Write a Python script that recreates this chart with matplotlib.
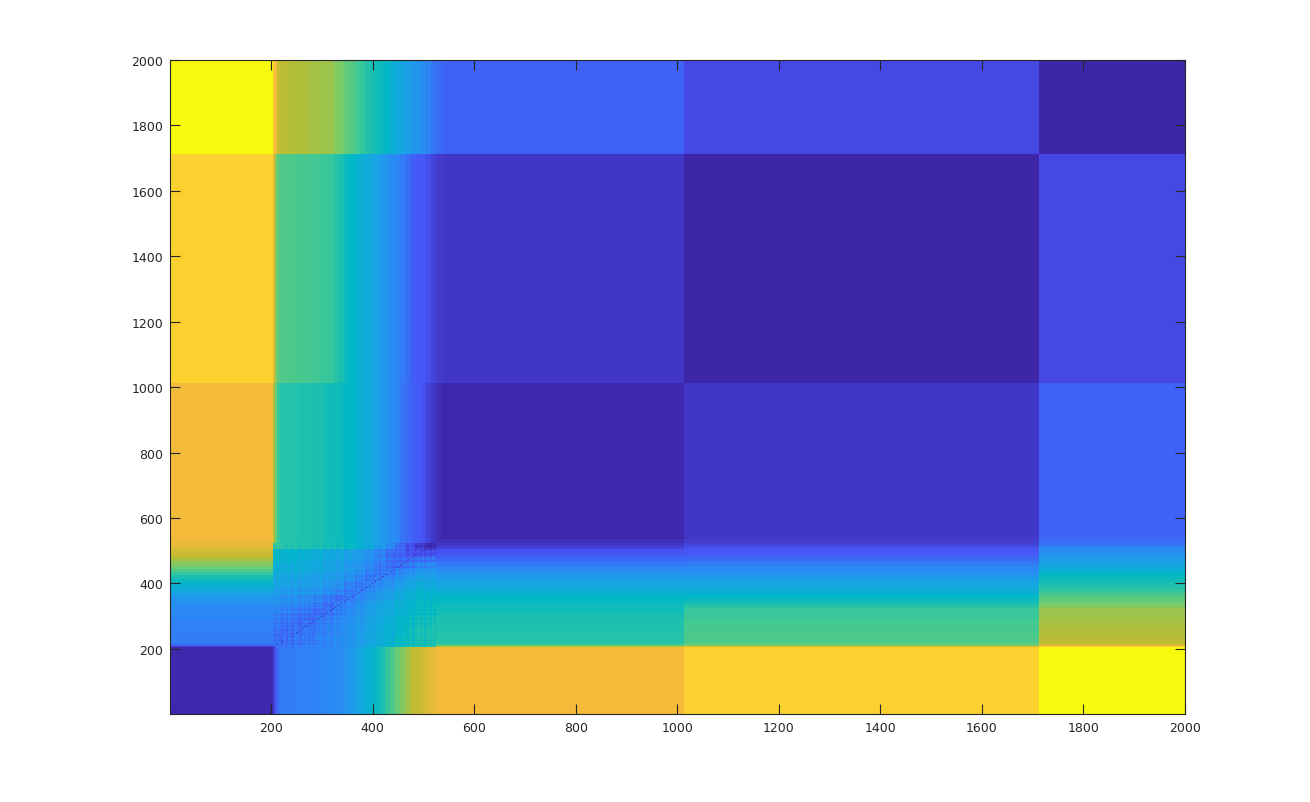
import numpy as np
import matplotlib
matplotlib.use('Agg')
import matplotlib.pyplot as plt
from matplotlib.colors import LinearSegmentedColormap

# parula-like colours
cmap_colors = [(0.2422, 0.1504, 0.6603), (0.2810, 0.3228, 0.9579), (0.1786, 0.5289, 0.9682),
               (0.1000, 0.6400, 0.9000), (0.0000, 0.7200, 0.7800), (0.2000, 0.7800, 0.6200),
               (0.4700, 0.8000, 0.4200), (0.7300, 0.7400, 0.2000), (0.9600, 0.7300, 0.2300),
               (0.9900, 0.8400, 0.1800), (0.9760, 0.9840, 0.0550)]

ticks = [200, 400, 600, 800, 1000, 1200, 1400, 1600, 1800, 2000]

# band edges along both axes
trans_edges = [205, 209, 213, 218, 225, 235, 245, 255, 265, 275, 285, 295, 305, 315, 325, 335, 345,
               355, 365, 375, 385, 395, 405, 415, 425, 435, 445, 455, 465, 475, 485, 495, 505, 515, 525,
               535, 545, 555]
block_edges = [1013, 1712, 2001]
n_tail = 3  # last transition bands, right of the busy middle part

# levels of the big blocks A, C, D, E against each other
blocks = [[0.01, 0.80, 0.88, 1.00],
          [0.80, 0.01, 0.04, 0.13],
          [0.88, 0.04, 0.00, 0.08],
          [1.00, 0.13, 0.08, 0.00]]

# levels of each block against the transition bands
strip_a = [.06, .12, .16, .18, .18, .18, .19, .19, .19, .19, .20, .20, .20, .21, .22, .23, .25,
           .27, .30, .33, .36, .38, .42, .45, .50, .54, .58, .62, .66, .70, .72, .74, .76, .78, .79, .80, .80]
strip_c = [.68, .58, .50, .47, .47, .47, .47, .46, .46, .46, .45, .45, .44, .43, .43, .42, .41,
           .40, .37, .35, .33, .31, .30, .27, .25, .22, .20, .17, .15, .13, .12, .10, .07, .04, .02, .01, .01]
strip_d = [.76, .62, .56, .54, .54, .54, .53, .53, .53, .52, .52, .51, .51, .50, .48, .45, .42,
           .40, .37, .35, .33, .32, .30, .27, .24, .22, .20, .18, .16, .13, .12, .11, .09, .07, .05, .045, .04]
strip_e = [.85, .80, .72, .70, .70, .69, .69, .68, .68, .67, .67, .66, .66, .65, .62, .60, .57,
           .55, .52, .50, .47, .45, .43, .42, .39, .36, .33, .31, .29, .27, .25, .22, .20, .17, .15, .14, .13]

# the busy part in the middle, in percent, bottom row first
center_start = 205
center_step = 20
center = [[16, 16, 17, 18, 19, 20, 22, 25, 28, 32, 35, 38, 41, 43, 44, 45],
          [15, 16, 17, 17, 19, 20, 22, 24, 28, 31, 34, 37, 40, 42, 44, 45],
          [16, 15, 16, 17, 18, 20, 21, 24, 27, 31, 34, 37, 39, 42, 44, 45],
          [17, 16, 15, 16, 18, 19, 21, 24, 27, 30, 33, 36, 39, 41, 43, 44],
          [18, 17, 16, 15, 17, 18, 21, 23, 26, 29, 32, 35, 38, 40, 42, 43],
          [20, 19, 18, 17, 15, 17, 19, 22, 25, 29, 32, 34, 37, 39, 41, 42],
          [22, 21, 20, 19, 17, 15, 18, 20, 24, 28, 31, 33, 36, 38, 40, 41],
          [25, 24, 23, 22, 20, 18, 16, 18, 21, 25, 28, 31, 34, 37, 39, 40],
          [27, 26, 26, 25, 24, 22, 19, 17, 18, 22, 25, 28, 31, 34, 37, 37],
          [30, 29, 28, 28, 27, 25, 23, 19, 17, 19, 22, 25, 28, 31, 34, 33],
          [32, 31, 31, 30, 29, 28, 26, 24, 20, 17, 19, 22, 25, 28, 30, 30],
          [34, 33, 33, 32, 31, 30, 28, 26, 23, 19, 17, 18, 20, 23, 26, 26],
          [36, 35, 35, 34, 33, 31, 30, 27, 25, 22, 18, 16, 16, 18, 20, 21],
          [38, 37, 36, 35, 34, 32, 31, 28, 26, 23, 19, 16, 14, 14, 15, 16],
          [39, 38, 37, 36, 35, 33, 32, 30, 27, 24, 20, 16, 13, 10, 9, 9],
          [50, 47, 47, 46, 45, 44, 43, 41, 37, 33, 28, 22, 15, 10, 5, 2]]

# fine plaid texture of the middle part, percent per 4 indices
ripple_step = 4
ripple_scale = 0.6
ripple_col = [2, -1, 3, 0, -3, 1, -2, 2, 0, -3, 3, 1, -1, -3, 2, 0, 3, -2, 1, -1,
              -3, 2, 0, 3, -1, -2, 1, 3, -3, 0, 2, -2, 1, -1, 3, -3, 0, 2, -1, 1,
              -2, 3, 0, -1, 2, -3, 1, 0, 3, -2, -1, 2, -3, 1, 3, 0, -2, 2, -1, -3,
              1, 3, -2, 0, 2, -1, -3, 3, 1, -2, 0, 2, -1, 3, -3, 1, 0, -2, 2, -1]
ripple_row = [-1, 3, -2, 0, 2, -3, 1, 3, -1, 0, -3, 2, 1, -2, 3, 0, -1, 2, -3, 1,
              3, -2, 0, 2, -1, -3, 3, 1, -2, 0, 2, -3, 1, -1, 3, 0, -2, 2, -3, 1,
              0, 3, -1, -2, 2, 1, -3, 3, 0, -1, 2, -2, 1, 3, -3, 0, -1, 2, 1, -2,
              3, -3, 0, 2, -1, 1, -2, 3, 0, -3, 2, -1, 1, 3, -2, 0, 2, -3, 1, -1]


def build_matrix():
    edges = np.array([1] + trans_edges + block_edges)
    n_trans = len(trans_edges) - 1
    order = [0] + list(range(n_trans + 1, n_trans + 4))
    levels = np.zeros((n_trans + 4, n_trans + 4))
    levels[np.ix_(order, order)] = blocks
    for k, strip in zip(order, [strip_a, strip_c, strip_d, strip_e]):
        levels[k, 1:n_trans + 1] = strip
        levels[1:n_trans + 1, k] = strip

    # the tail bands behave like block C against the other transition bands
    for k in range(n_trans - n_tail + 1, n_trans + 1):
        levels[k, 1:n_trans + 1] = strip_c
        levels[1:n_trans + 1, k] = strip_c

    index = np.arange(1, 2001)
    band = np.searchsorted(edges, index, side='right') - 1
    M = levels[np.ix_(band, band)]

    # middle part
    table = np.array(center) / 100.0
    inside = np.where((index >= center_start) & (index < center_start + center_step * table.shape[0]))[0]
    cell = (index[inside] - center_start) // center_step
    fine = (index[inside] - center_start) // ripple_step
    M[np.ix_(inside, inside)] = (table[np.ix_(cell, cell)]
                                 + ripple_scale * np.array(ripple_row)[fine][:, None] / 100.0
                                 + ripple_scale * np.array(ripple_col)[fine][None, :] / 100.0)
    np.fill_diagonal(M, 0)
    return M


def main():
    cmap = LinearSegmentedColormap.from_list('parula_like', cmap_colors, N=256)

    fig = plt.figure(figsize=(13.1, 8.03), dpi=100)
    ax = fig.add_axes([170 / 1310, (803 - 715) / 803, 1015 / 1310, 654 / 803])
    ax.imshow(build_matrix(), origin='lower', extent=(0.5, 2000.5, 0.5, 2000.5), aspect='auto',
              cmap=cmap, vmin=0, vmax=1, interpolation='nearest')
    ax.set_xlim(1, 2000)
    ax.set_ylim(1, 2000)
    ax.set_xticks(ticks)
    ax.set_yticks(ticks)
    ax.tick_params(direction='in', length=7, width=0.8, top=True, right=True,
                   labelsize=9, colors='#262626', pad=5)
    for spine in ax.spines.values():
        spine.set_color('#262626')
        spine.set_linewidth(0.8)
    fig.savefig('out.png', dpi=100)


if __name__ == "__main__":
    main()
